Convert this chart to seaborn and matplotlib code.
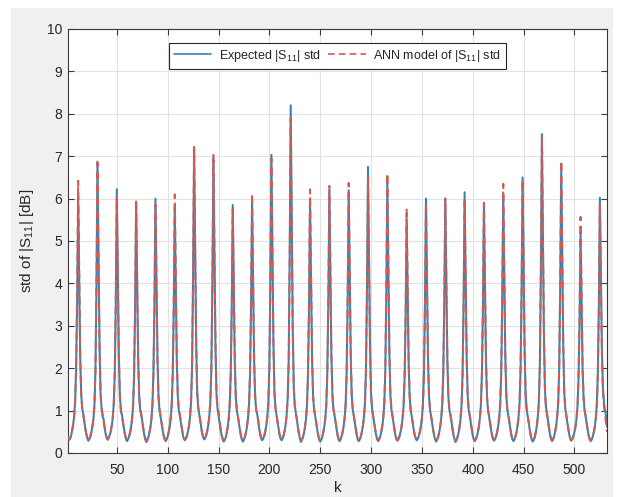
import numpy as np
import pandas as pd
import matplotlib
matplotlib.use("Agg")
import matplotlib.pyplot as plt
from matplotlib.patches import Rectangle
import seaborn as sns

# ---------------- data ----------------
# std of |S11| [dB] for k = 1 .. 532 ; one row per resonance (19 samples)
expected = [0.42, 0.36,
    0.31, 0.33, 0.40, 0.52, 0.66, 0.85, 1.20, 2.00, 3.55, 6.05, 4.10, 2.25, 1.38, 1.05, 0.92, 0.75, 0.58, 0.44, 0.35,
    0.29, 0.33, 0.39, 0.49, 0.62, 0.80, 1.12, 1.95, 4.00, 6.87, 4.65, 2.55, 1.42, 1.05, 0.86, 0.80, 0.60, 0.45, 0.36,
    0.31, 0.35, 0.42, 0.50, 0.64, 0.83, 1.16, 1.90, 3.60, 6.22, 4.25, 2.30, 1.36, 1.00, 0.90, 0.74, 0.57, 0.43, 0.33,
    0.28, 0.32, 0.38, 0.48, 0.61, 0.80, 1.10, 1.85, 3.45, 5.92, 4.05, 2.20, 1.33, 1.02, 0.92, 0.76, 0.58, 0.42, 0.32,
    0.26, 0.30, 0.37, 0.47, 0.60, 0.80, 1.12, 1.88, 3.50, 6.00, 4.10, 2.22, 1.34, 1.00, 0.86, 0.70, 0.55, 0.41, 0.32,
    0.28, 0.32, 0.39, 0.49, 0.62, 0.82, 1.14, 1.85, 3.40, 5.80, 3.95, 2.15, 1.32, 1.00, 0.88, 0.72, 0.56, 0.42, 0.33,
    0.30, 0.34, 0.41, 0.51, 0.65, 0.86, 1.20, 2.05, 4.20, 7.22, 4.90, 2.65, 1.45, 1.08, 0.92, 0.78, 0.60, 0.45, 0.36,
    0.32, 0.36, 0.43, 0.53, 0.67, 0.88, 1.22, 2.02, 4.05, 6.95, 4.70, 2.55, 1.40, 1.05, 0.88, 0.72, 0.56, 0.42, 0.33,
    0.27, 0.30, 0.36, 0.46, 0.60, 0.80, 1.12, 1.85, 3.40, 5.85, 4.00, 2.18, 1.32, 1.00, 0.87, 0.71, 0.55, 0.41, 0.31,
    0.27, 0.31, 0.38, 0.48, 0.62, 0.82, 1.14, 1.88, 3.45, 5.95, 4.05, 2.20, 1.34, 1.02, 0.92, 0.76, 0.58, 0.43, 0.34,
    0.30, 0.34, 0.41, 0.51, 0.65, 0.86, 1.20, 2.02, 4.10, 7.03, 4.78, 2.60, 1.42, 1.06, 0.90, 0.74, 0.57, 0.43, 0.34,
    0.30, 0.34, 0.41, 0.52, 0.67, 0.90, 1.28, 2.20, 4.75, 8.20, 5.60, 2.95, 1.55, 1.12, 0.95, 0.80, 0.62, 0.46, 0.35,
    0.26, 0.30, 0.37, 0.47, 0.60, 0.80, 1.12, 1.86, 3.45, 5.95, 4.05, 2.20, 1.34, 1.02, 0.88, 0.72, 0.55, 0.41, 0.31,
    0.27, 0.31, 0.38, 0.48, 0.62, 0.82, 1.15, 1.90, 3.60, 6.20, 4.22, 2.30, 1.36, 1.03, 0.90, 0.74, 0.57, 0.42, 0.32,
    0.28, 0.32, 0.39, 0.49, 0.62, 0.82, 1.14, 1.90, 3.60, 6.20, 4.22, 2.30, 1.36, 1.02, 0.88, 0.72, 0.55, 0.41, 0.31,
    0.28, 0.32, 0.39, 0.50, 0.64, 0.85, 1.18, 1.98, 3.92, 6.75, 4.60, 2.50, 1.40, 1.04, 0.88, 0.72, 0.56, 0.42, 0.32,
    0.28, 0.32, 0.39, 0.49, 0.63, 0.83, 1.16, 1.93, 3.70, 6.40, 4.35, 2.36, 1.38, 1.03, 0.88, 0.72, 0.55, 0.41, 0.32,
    0.29, 0.33, 0.40, 0.50, 0.63, 0.82, 1.12, 1.80, 3.20, 5.50, 3.75, 2.05, 1.30, 1.00, 0.86, 0.70, 0.54, 0.41, 0.33,
    0.30, 0.34, 0.40, 0.50, 0.63, 0.82, 1.14, 1.88, 3.50, 6.00, 4.10, 2.22, 1.34, 1.01, 0.87, 0.71, 0.55, 0.41, 0.32,
    0.27, 0.31, 0.38, 0.48, 0.62, 0.82, 1.14, 1.88, 3.50, 6.00, 4.10, 2.22, 1.34, 1.02, 0.90, 0.75, 0.58, 0.43, 0.33,
    0.26, 0.30, 0.37, 0.47, 0.61, 0.81, 1.13, 1.88, 3.55, 6.15, 4.20, 2.28, 1.35, 1.02, 0.88, 0.72, 0.55, 0.41, 0.32,
    0.28, 0.32, 0.39, 0.49, 0.62, 0.82, 1.13, 1.86, 3.42, 5.90, 4.02, 2.18, 1.33, 1.01, 0.87, 0.71, 0.55, 0.41, 0.32,
    0.29, 0.33, 0.40, 0.50, 0.63, 0.83, 1.15, 1.90, 3.55, 6.10, 4.15, 2.26, 1.35, 1.02, 0.88, 0.72, 0.55, 0.41, 0.32,
    0.28, 0.32, 0.39, 0.49, 0.63, 0.84, 1.17, 1.95, 3.78, 6.50, 4.42, 2.40, 1.38, 1.03, 0.88, 0.72, 0.55, 0.41, 0.31,
    0.27, 0.31, 0.38, 0.49, 0.64, 0.86, 1.22, 2.10, 4.35, 7.52, 5.12, 2.75, 1.48, 1.08, 0.92, 0.76, 0.58, 0.43, 0.33,
    0.28, 0.32, 0.39, 0.50, 0.64, 0.85, 1.18, 1.98, 3.95, 6.80, 4.62, 2.50, 1.40, 1.04, 0.88, 0.72, 0.56, 0.42, 0.32,
    0.29, 0.33, 0.40, 0.50, 0.62, 0.80, 1.10, 1.75, 3.05, 5.20, 3.55, 1.95, 1.28, 1.00, 0.86, 0.70, 0.54, 0.41, 0.32,
    0.28, 0.32, 0.39, 0.49, 0.62, 0.82, 1.14, 1.88, 3.50, 6.02, 4.20, 2.40, 1.55, 1.20, 1.02, 0.88, 0.62,
]

ann_model = [0.40, 0.35,
    0.32, 0.35, 0.41, 0.52, 0.66, 0.86, 1.22, 2.05, 3.75, 6.42, 4.30, 2.30, 1.38, 1.04, 0.90, 0.76, 0.58, 0.45, 0.36,
    0.31, 0.34, 0.40, 0.50, 0.63, 0.82, 1.14, 1.96, 4.00, 6.85, 4.62, 2.52, 1.40, 1.06, 0.92, 0.78, 0.60, 0.46, 0.37,
    0.33, 0.36, 0.42, 0.51, 0.64, 0.84, 1.16, 1.88, 3.52, 6.05, 4.15, 2.26, 1.35, 1.02, 0.88, 0.73, 0.57, 0.44, 0.35,
    0.31, 0.34, 0.39, 0.48, 0.61, 0.80, 1.12, 1.86, 3.46, 5.95, 4.06, 2.22, 1.34, 1.03, 0.90, 0.74, 0.57, 0.43, 0.34,
    0.29, 0.32, 0.38, 0.47, 0.60, 0.80, 1.12, 1.86, 3.42, 5.85, 4.00, 2.18, 1.33, 1.02, 0.88, 0.72, 0.56, 0.43, 0.34,
    0.30, 0.33, 0.39, 0.49, 0.63, 0.83, 1.16, 1.90, 3.56, 6.10, 4.15, 2.24, 1.34, 1.02, 0.90, 0.74, 0.57, 0.43, 0.35,
    0.32, 0.35, 0.41, 0.51, 0.65, 0.86, 1.20, 2.04, 4.18, 7.20, 4.88, 2.62, 1.44, 1.07, 0.92, 0.77, 0.60, 0.46, 0.37,
    0.33, 0.36, 0.43, 0.53, 0.67, 0.88, 1.22, 2.04, 4.10, 7.03, 4.75, 2.58, 1.42, 1.06, 0.98, 0.80, 0.58, 0.44, 0.35,
    0.30, 0.33, 0.38, 0.47, 0.60, 0.80, 1.12, 1.84, 3.36, 5.75, 3.95, 2.15, 1.32, 1.01, 0.88, 0.72, 0.56, 0.42, 0.33,
    0.29, 0.33, 0.39, 0.49, 0.63, 0.83, 1.15, 1.90, 3.56, 6.12, 4.16, 2.25, 1.35, 1.03, 0.93, 0.78, 0.60, 0.45, 0.36,
    0.32, 0.35, 0.41, 0.51, 0.65, 0.86, 1.20, 2.00, 4.05, 6.95, 4.72, 2.56, 1.41, 1.06, 0.90, 0.75, 0.58, 0.44, 0.35,
    0.32, 0.35, 0.42, 0.52, 0.67, 0.89, 1.26, 2.15, 4.60, 7.90, 5.40, 2.88, 1.52, 1.10, 0.95, 0.80, 0.62, 0.47, 0.36,
    0.29, 0.32, 0.38, 0.48, 0.61, 0.81, 1.13, 1.90, 3.62, 6.22, 4.22, 2.28, 1.35, 1.03, 0.89, 0.73, 0.56, 0.43, 0.34,
    0.30, 0.33, 0.39, 0.49, 0.62, 0.82, 1.15, 1.92, 3.66, 6.30, 4.28, 2.32, 1.37, 1.04, 0.91, 0.75, 0.58, 0.44, 0.34,
    0.30, 0.33, 0.39, 0.49, 0.63, 0.83, 1.15, 1.93, 3.70, 6.37, 4.33, 2.35, 1.37, 1.03, 0.89, 0.73, 0.56, 0.43, 0.34,
    0.31, 0.34, 0.40, 0.50, 0.64, 0.84, 1.17, 1.95, 3.78, 6.50, 4.42, 2.40, 1.38, 1.04, 0.89, 0.73, 0.57, 0.43, 0.34,
    0.30, 0.33, 0.39, 0.49, 0.63, 0.84, 1.17, 1.96, 3.84, 6.60, 4.48, 2.42, 1.39, 1.04, 0.89, 0.73, 0.56, 0.43, 0.34,
    0.31, 0.34, 0.40, 0.50, 0.63, 0.82, 1.14, 1.85, 3.36, 5.77, 3.92, 2.12, 1.32, 1.02, 0.87, 0.71, 0.55, 0.42, 0.35,
    0.32, 0.35, 0.41, 0.50, 0.63, 0.82, 1.14, 1.86, 3.44, 5.90, 4.02, 2.18, 1.33, 1.02, 0.88, 0.72, 0.56, 0.43, 0.34,
    0.30, 0.33, 0.39, 0.48, 0.62, 0.82, 1.14, 1.88, 3.50, 6.00, 4.08, 2.22, 1.34, 1.03, 0.91, 0.76, 0.59, 0.44, 0.34,
    0.29, 0.32, 0.38, 0.47, 0.61, 0.81, 1.13, 1.86, 3.48, 6.00, 4.10, 2.23, 1.34, 1.02, 0.89, 0.73, 0.56, 0.43, 0.34,
    0.30, 0.33, 0.39, 0.49, 0.62, 0.82, 1.13, 1.86, 3.42, 5.90, 4.02, 2.18, 1.33, 1.02, 0.88, 0.72, 0.56, 0.42, 0.34,
    0.31, 0.34, 0.40, 0.50, 0.63, 0.83, 1.16, 1.93, 3.70, 6.35, 4.32, 2.34, 1.37, 1.03, 0.89, 0.73, 0.56, 0.42, 0.33,
    0.30, 0.33, 0.39, 0.49, 0.63, 0.84, 1.17, 1.95, 3.75, 6.45, 4.38, 2.38, 1.38, 1.04, 0.89, 0.73, 0.56, 0.42, 0.33,
    0.29, 0.32, 0.38, 0.49, 0.64, 0.86, 1.22, 2.08, 4.32, 7.45, 5.06, 2.72, 1.47, 1.08, 0.92, 0.76, 0.59, 0.44, 0.34,
    0.30, 0.33, 0.39, 0.50, 0.64, 0.85, 1.19, 2.00, 4.00, 6.90, 4.68, 2.54, 1.41, 1.05, 0.89, 0.73, 0.57, 0.43, 0.34,
    0.31, 0.34, 0.40, 0.50, 0.62, 0.81, 1.12, 1.80, 3.25, 5.57, 3.80, 2.06, 1.30, 1.01, 0.87, 0.71, 0.55, 0.42, 0.33,
    0.30, 0.33, 0.39, 0.49, 0.62, 0.82, 1.13, 1.86, 3.44, 5.90, 4.05, 2.30, 1.45, 1.10, 0.92, 0.70, 0.50,
]

k = list(range(1, len(expected) + 1))
x_ticks = [50, 100, 150, 200, 250, 300, 350, 400, 450, 500]
y_ticks = [0, 1, 2, 3, 4, 5, 6, 7, 8, 9, 10]
label_expected = "Expected |S$_{11}$| std"
label_model = "ANN model of |S$_{11}$| std"

df = pd.DataFrame({"k": k, "expected": expected, "model": ann_model})

# ---------------- style ----------------
sns.set_theme(style="white")
plt.rcParams["font.family"] = ["Liberation Sans", "DejaVu Sans"]
plt.rcParams["mathtext.fontset"] = "custom"
plt.rcParams["mathtext.rm"] = "Liberation Sans"
plt.rcParams["mathtext.it"] = "Liberation Sans:italic"
plt.rcParams["mathtext.default"] = "regular"

W, H = 625, 497
fig = plt.figure(figsize=(W / 100, H / 100), dpi=100, facecolor="white")
fig.patches.append(Rectangle((11 / W, 0), (613 - 11) / W, (H - 8) / H,
                             transform=fig.transFigure, facecolor="#f0f0f0",
                             edgecolor="none", zorder=-10))
ax = fig.add_axes([68 / W, (H - 453) / H, (607 - 68) / W, (453 - 29) / H])
ax.set_facecolor("white")

c_exp = "#2f86b3"
c_ann = "#cf5a56"
sns.lineplot(data=df, x="k", y="expected", ax=ax, color=c_exp, lw=1.45,
             label=label_expected, zorder=3)
sns.lineplot(data=df, x="k", y="model", ax=ax, color=c_ann, lw=1.45,
             label=label_model, zorder=4)
ax.lines[1].set_dashes((4, 2.5))

ax.set_xlim(2, 532)
ax.set_ylim(0, 10)
ax.set_xticks(x_ticks)
ax.set_yticks(y_ticks)
ax.grid(True, color="#e2e2e2", lw=0.8)
ax.set_axisbelow(True)
for s in ax.spines.values():
    s.set_color("#3a3a3a")
    s.set_linewidth(0.8)
ax.tick_params(axis="both", which="both", direction="in", length=4, width=0.8,
               color="#3a3a3a", labelsize=10, labelcolor="#262626",
               top=True, right=True, bottom=True, left=True)
ax.tick_params(axis="x", pad=7)
ax.tick_params(axis="y", pad=4)

ax.set_xlabel("k", fontsize=11, color="#262626", labelpad=3)
ax.set_ylabel("std of |S$_{11}$| [dB]", fontsize=11, color="#262626", labelpad=8)

leg = ax.legend(loc="upper center", bbox_to_anchor=(0.5, 0.968), ncol=2,
                fontsize=9, frameon=True, fancybox=False, framealpha=1,
                edgecolor="#262626", handlelength=3.0, handletextpad=0.6,
                columnspacing=0.6, borderpad=0.4, borderaxespad=0)
leg.get_frame().set_linewidth(0.8)
leg.get_lines()[0].set_linewidth(1.2)
leg.get_lines()[1].set_linewidth(1.2)
leg.get_lines()[1].set_dashes((4, 2.5))

fig.savefig("out.png", dpi=100, facecolor=fig.get_facecolor())
